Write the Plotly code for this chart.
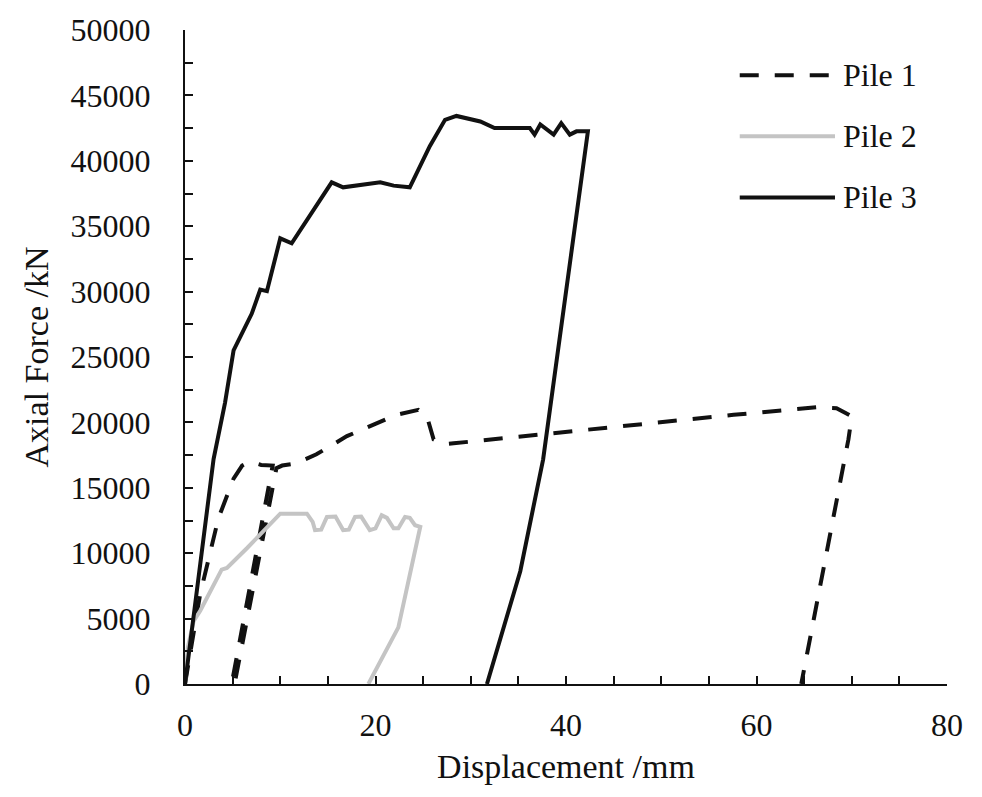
import plotly.graph_objects as go

# Pile 1 (dashed black)
pile1_x = [0, 1.6, 3.5, 5.1, 6.0, 6.8, 8.0, 9.2, 4.9, 5.2, 9.6, 10.2, 11.6, 13.8, 17.0, 20.5, 22.2, 24.5, 25.4, 26.1, 27.1, 28.2,
           45.3, 50.6, 57.6, 66.3, 68.4, 70.0, 69.65, 64.7]
pile1_y = [0, 6900, 12650, 15700, 16700, 17000, 16750, 16700, 0, 0, 16500, 16700, 16850, 17560, 18950, 20080, 20580, 20960, 20460, 18700, 18320, 18400,
           19700, 20080, 20580, 21160, 21090, 20460, 18700, 0]

# Pile 2 (grey)
pile2_x = [0, 0.3, 0.9, 1.6, 3.85, 4.4, 6.5, 8.9, 10.0, 12.8, 13.4, 13.65, 14.3, 14.9, 15.8, 16.6, 17.2, 17.85, 18.5, 19.4, 20.0,
           20.65, 21.2, 21.9, 22.4, 23.1, 23.6, 24.15, 24.7, 22.4, 19.25]
pile2_y = [0, 2800, 4800, 5600, 8740, 8870, 10380, 12140, 13020, 13020, 12400, 11770, 11800, 12770, 12800, 11770, 11800, 12770, 12800, 11770, 11900,
           12900, 12700, 11900, 11900, 12770, 12700, 12140, 12020, 4330, 0]

# Pile 3 (solid black)
pile3_x = [0, 1.5, 3.0, 4.2, 5.1, 7.0, 7.9, 8.6, 10.0, 11.2, 15.4, 16.6, 20.5, 21.9, 23.6, 25.7, 27.3, 28.5, 31.0, 32.5, 36.2, 36.7,
           37.3, 38.7, 39.5, 40.4, 41.1, 42.3, 38.0, 37.6, 35.2, 31.7]
pile3_y = [0, 8800, 17200, 21500, 25500, 28300, 30150, 30030, 34070, 33690, 38350, 37970, 38350, 38100, 37970, 41120, 43130, 43430, 43010, 42500, 42500, 42000,
           42780, 42000, 42880, 42000, 42250, 42250, 19200, 17180, 8620, 0]

series_names = ["Pile 1", "Pile 2", "Pile 3"]
x_ticks = [0, 20, 40, 60, 80]
y_ticks = [0, 5000, 10000, 15000, 20000, 25000, 30000, 35000, 40000, 45000, 50000]

FONT = "Liberation Serif"
BLACK = "#111111"
GREY = "#c4c4c4"
DASH = "19px,16px"

styles = [dict(color=BLACK, width=4, dash=DASH),
          dict(color=GREY, width=4),
          dict(color=BLACK, width=4)]

fig = go.Figure()
for name, xs, ys, st in zip(series_names, [pile1_x, pile2_x, pile3_x], [pile1_y, pile2_y, pile3_y], styles):
    fig.add_trace(go.Scatter(x=xs, y=ys, mode="lines", name=name, line=st, showlegend=False))

# Legend drawn manually (paper coordinates)
legend_rows = [0.931, 0.8375, 0.744]
for name, yy, st in zip(series_names, legend_rows, styles):
    fig.add_shape(type="line", xref="paper", yref="paper", x0=0.728, x1=0.853, y0=yy, y1=yy,
                  line=st)
    fig.add_annotation(text=name, xref="paper", yref="paper", x=0.861, y=yy, xanchor="left",
                       yanchor="middle", showarrow=False, font=dict(family=FONT, size=32, color=BLACK))

fig.update_layout(
    width=982, height=797,
    margin=dict(l=185, r=35, t=22, b=113),
    paper_bgcolor="white", plot_bgcolor="white",
    font=dict(family=FONT, size=32, color=BLACK),
)
fig.update_xaxes(
    range=[0, 80], tickvals=x_ticks, ticktext=[str(v) for v in x_ticks],
    ticks="inside", ticklen=8, tickwidth=2, tickcolor=BLACK,
    showline=True, linecolor=BLACK, linewidth=2, showgrid=False, zeroline=False,
    minor=dict(dtick=5, ticks="inside", ticklen=8, tickwidth=2, tickcolor=BLACK, showgrid=False),
    tickfont=dict(family=FONT, size=32, color=BLACK), ticklabelstandoff=12,
    title=dict(text="Displacement /mm", font=dict(family=FONT, size=34, color=BLACK), standoff=12),
)
fig.update_yaxes(
    range=[0, 50000], tickvals=y_ticks, ticktext=[str(v) for v in y_ticks],
    ticks="inside", ticklen=8, tickwidth=2, tickcolor=BLACK,
    showline=True, linecolor=BLACK, linewidth=2, showgrid=False, zeroline=False,
    minor=dict(dtick=2500, ticks="inside", ticklen=8, tickwidth=2, tickcolor=BLACK, showgrid=False),
    tickfont=dict(family=FONT, size=32, color=BLACK), ticklabelstandoff=26,
    title=dict(text="Axial Force /kN", font=dict(family=FONT, size=34, color=BLACK), standoff=12),
)

fig.write_html("out.html")
